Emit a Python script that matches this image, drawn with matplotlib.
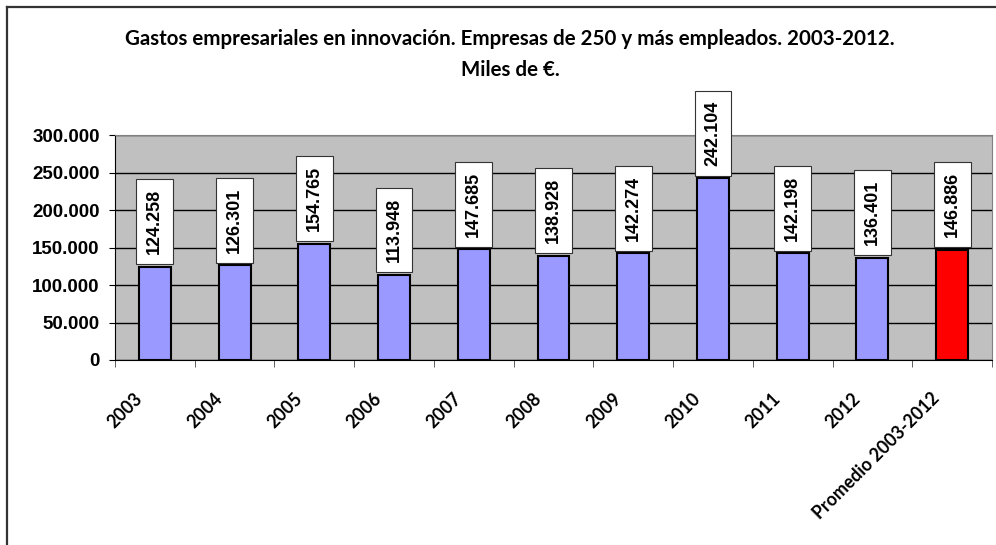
import numpy as np
from matplotlib import pyplot as plt
from matplotlib.lines import Line2D
from matplotlib.ticker import FuncFormatter
from matplotlib.transforms import ScaledTranslation

categories = ["2003", "2004", "2005", "2006", "2007", "2008", "2009", "2010",
              "2011", "2012", "Promedio 2003-2012"]
values = [124258, 126301, 154765, 113948, 147685, 138928, 142274, 242104,
          142198, 136401, 146886]
colors = ["#9999FF"] * 10 + ["#FF0000"]

W, H = 996, 545
fig = plt.figure(figsize=(W / 100, H / 100), dpi=100)

# outer chart frame (cut at right/bottom like the original)
fig.add_artist(Line2D([6.5 / W, 6.5 / W], [0, 1 - 6.5 / H], color="#333333", lw=1.6))
fig.add_artist(Line2D([6.5 / W, 1], [1 - 6.5 / H, 1 - 6.5 / H], color="#333333", lw=1.6))

ax = fig.add_axes([115 / W, 1 - 360 / H, (992 - 115) / W, (360 - 135) / H])
ax.set_facecolor("#C0C0C0")

x = np.arange(len(categories))
ax.bar(x, values, width=0.4, color=colors, edgecolor="black", linewidth=1.5, zorder=3)

ax.set_xlim(-0.5, len(categories) - 0.5)
ax.set_ylim(0, 300000)
ax.set_yticks(np.arange(0, 300001, 50000))
ax.yaxis.set_major_formatter(FuncFormatter(lambda v, p: f"{int(v):,}".replace(",", ".")))
ax.grid(axis="y", color="black", lw=1, zorder=1)

for s in ["top", "right"]:
    ax.spines[s].set_color("#808080")
for s in ["left", "bottom"]:
    ax.spines[s].set_color("black")

ax.set_xticks(x)
ax.set_xticklabels(categories, rotation=45, ha="right", rotation_mode="anchor",
                   fontfamily="Lato", fontweight="bold", fontsize=12.8)
ax.set_xticks(np.arange(-0.5, len(categories)), minor=True)
ax.tick_params(axis="x", which="major", length=0, pad=21.5)
ax.tick_params(axis="x", which="minor", length=5, color="#444444")
ax.tick_params(axis="y", length=4, pad=7)
shift = ScaledTranslation(-21 / 100, 0, fig.dpi_scale_trans)
for lab in ax.get_xticklabels():
    lab.set_transform(lab.get_transform() + shift)
for lab in ax.get_yticklabels():
    lab.set_fontfamily("Liberation Sans")
    lab.set_fontweight("bold")
    lab.set_fontsize(13.5)

for xi, v in zip(x, values):
    ax.annotate(f"{v:,}".replace(",", "."), (xi, v), xytext=(0, 9),
                textcoords="offset points", rotation=90, ha="center", va="bottom",
                fontfamily="Liberation Sans", fontweight="bold", fontsize=13,
                bbox=dict(boxstyle="square,pad=0.55", fc="white", ec="#333333", lw=0.8),
                zorder=5, annotation_clip=False)

fig.text(510 / W, 1 - 45 / H, "Gastos empresariales en innovación. Empresas de 250 y más empleados. 2003-2012.",
         ha="center", va="baseline", fontfamily="Lato", fontweight="bold", fontsize=14.8)
fig.text(510 / W, 1 - 76 / H, "Miles de €.", ha="center", va="baseline",
         fontfamily="Lato", fontweight="bold", fontsize=14.8)

fig.savefig("out.png", dpi=100)
